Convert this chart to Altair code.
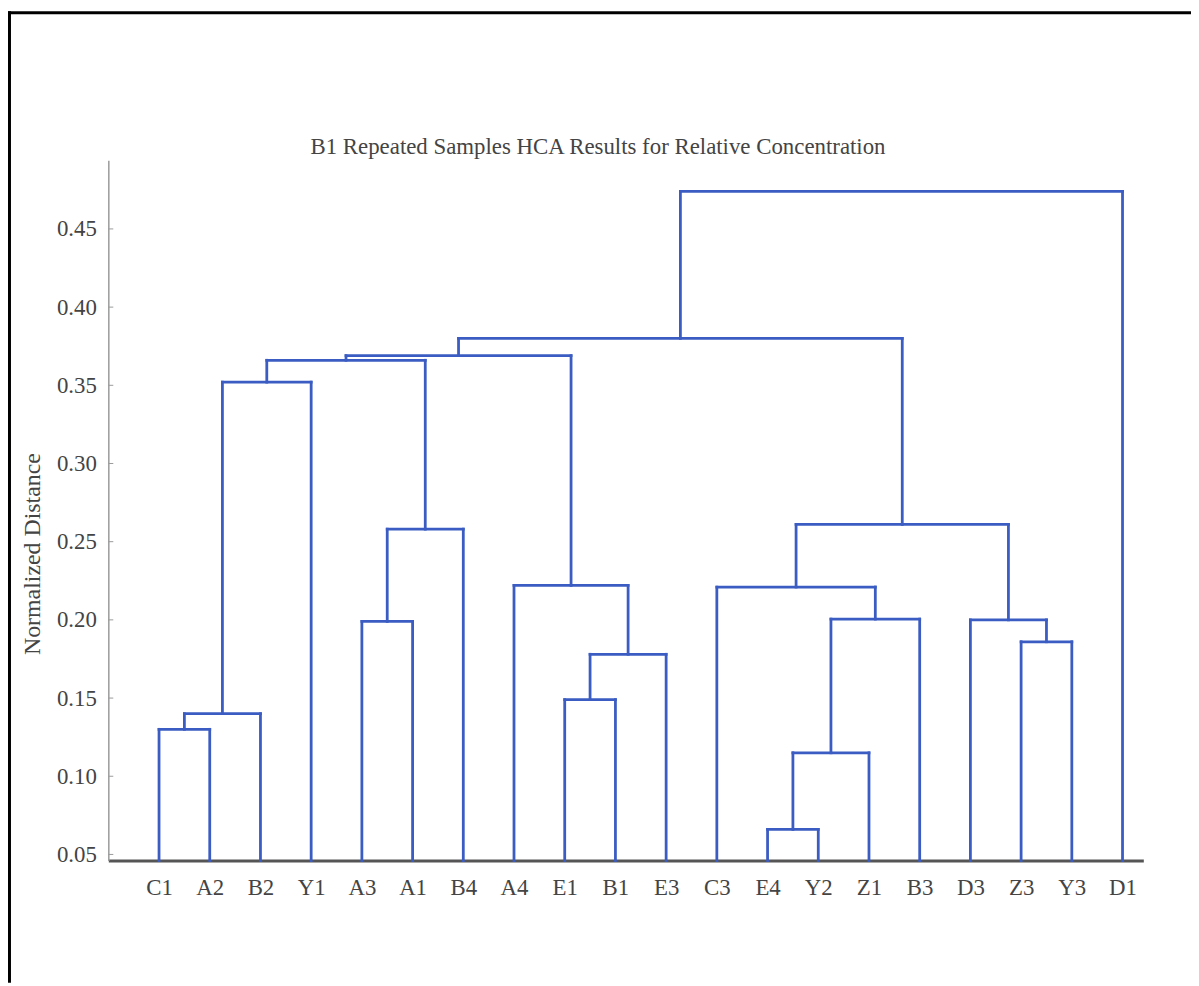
import altair as alt
import pandas as pd

# ---- data ----
leaves = ["C1", "A2", "B2", "Y1", "A3", "A1", "B4", "A4", "E1", "B1",
          "E3", "C3", "E4", "Y2", "Z1", "B3", "D3", "Z3", "Y3", "D1"]

# merge k creates node "m{k}"
left_child = ["C1", "m0", "m1", "A3", "m3", "E1", "m5", "A4", "m2", "m8",
              "E4", "m10", "m11", "C3", "Z3", "D3", "m13", "m9", "m17"]
right_child = ["A2", "B2", "Y1", "A1", "B4", "B1", "E3", "m6", "m4", "m7",
               "Y2", "Z1", "B3", "m12", "Y3", "m14", "m15", "m16", "D1"]
merge_height = [0.130, 0.140, 0.352, 0.199, 0.258, 0.149, 0.178, 0.222, 0.366, 0.369,
                0.066, 0.115, 0.2005, 0.221, 0.186, 0.200, 0.261, 0.380, 0.474]

y_ticks = [0.05, 0.10, 0.15, 0.20, 0.25, 0.30, 0.35, 0.40, 0.45]
y_domain = [0.0461, 0.4939]
x_domain = [0, 20.41]

title_text = "B1 Repeated Samples HCA Results for Relative Concentration"
y_title = "Normalized Distance"

# ---- build dendrogram segments ----
pos = {name: i + 1 for i, name in enumerate(leaves)}
hgt = {name: y_domain[0] for name in leaves}
rows = []
for k, (l, r, h) in enumerate(zip(left_child, right_child, merge_height)):
    for c in (l, r):
        rows.append({"x": pos[c], "x2": pos[c], "y": hgt[c], "y2": h})
    rows.append({"x": pos[l], "x2": pos[r], "y": h, "y2": h})
    pos[f"m{k}"] = (pos[l] + pos[r]) / 2
    hgt[f"m{k}"] = h
seg = pd.DataFrame(rows)

FONT = "Liberation Serif"
TXT = "#444444"
BLUE = "#3b5cc2"

label_expr = "[" + ",".join(f"'{n}'" for n in leaves) + "][datum.value - 1]"

dendro = alt.Chart(seg).mark_rule(color=BLUE, strokeWidth=2.8, strokeCap="square").encode(
    x=alt.X("x:Q", scale=alt.Scale(domain=x_domain, nice=False, zero=False),
            axis=alt.Axis(values=list(range(1, len(leaves) + 1)), labelExpr=label_expr,
                          title=None, grid=False, ticks=False,
                          domainColor="#555555", domainWidth=3,
                          labelFont=FONT, labelFontSize=23, labelColor=TXT,
                          labelPadding=16, labelAngle=0)),
    x2="x2:Q",
    y=alt.Y("y:Q", scale=alt.Scale(domain=y_domain, nice=False, zero=False),
            axis=alt.Axis(values=y_ticks, format=".2f", grid=False, ticks=False,
                          domainColor="#9a9a9a", domainWidth=1.5,
                          labelFont=FONT, labelFontSize=23, labelColor=TXT,
                          labelPadding=12,
                          title=y_title, titleFont=FONT, titleFontSize=24,
                          titleFontWeight="normal", titleColor=TXT,
                          titleX=-76, titleY=396, titleAlign="center",
                          titleBaseline="middle", titleAngle=-90)),
    y2="y2:Q",
)

ticks = alt.Chart(pd.DataFrame({"v": y_ticks})).mark_rule(color="#9a9a9a", strokeWidth=1).encode(
    y="v:Q", x=alt.value(0), x2=alt.value(5)
)

title = alt.Chart(pd.DataFrame({"t": [title_text]})).mark_text(
    font=FONT, fontSize=23, color=TXT, align="center", baseline="alphabetic"
).encode(text="t:N", x=alt.value(493), y=alt.value(-6))

frame_df = pd.DataFrame({"a": [0]})
left_border = alt.Chart(frame_df).mark_rule(color="black", strokeWidth=3).encode(
    x=alt.value(-99.5), y=alt.value(-150), y2=alt.value(828)
)
top_border = alt.Chart(frame_df).mark_rule(color="black", strokeWidth=3).encode(
    y=alt.value(-148.5), x=alt.value(-101), x2=alt.value(1090)
)

chart = alt.layer(dendro, ticks, title, left_border, top_border).properties(
    width=1042,
    height=705,
    padding={"left": 101, "top": 150, "right": 48, "bottom": 123},
    autosize=alt.AutoSizeParams(type="none"),
    background="white",
).configure_view(stroke=None)

chart.save("out.html", embed_options={"renderer": "svg", "actions": False})
